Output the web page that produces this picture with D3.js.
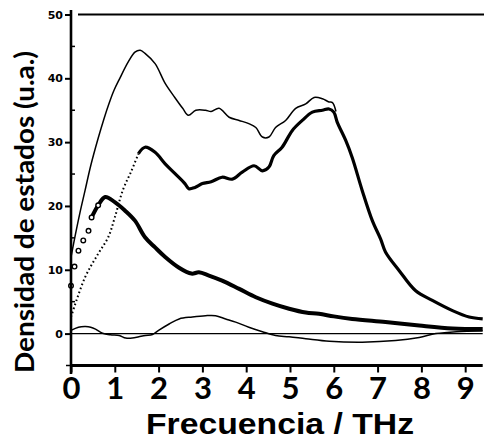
<!DOCTYPE html>
<html>
<head>
<meta charset="utf-8">
<script src="https://cdn.jsdelivr.net/npm/d3@7/dist/d3.min.js"></script>
<style>
  html, body { margin: 0; padding: 0; background: #fff; }
  svg { display: block; }
</style>
</head>
<body>
<svg id="chart" width="484" height="440"></svg>
<script>
// Densidad de estados vs frecuencia (THz)

// Curva total (línea fina superior)
const totalX = [0, 0.1, 0.2, 0.32, 0.45, 0.62, 0.75, 0.87, 0.98, 1.1, 1.31, 1.46, 1.58, 1.69, 1.92, 2.15, 2.37, 2.55, 2.68, 2.85, 3.07, 3.2, 3.38, 3.61, 3.84, 4.06, 4.22, 4.37, 4.52, 4.67, 4.9, 5.13, 5.36, 5.55, 5.74, 5.89, 5.97, 6.05];
const totalY = [12, 15.5, 18.8, 22.4, 26.3, 30.6, 33.6, 36.1, 38.1, 39.8, 42.6, 44.1, 44.4, 43.9, 42.3, 39.2, 37.0, 35.3, 34.2, 35.0, 35.0, 34.8, 35.3, 33.9, 33.4, 32.9, 32.3, 30.8, 30.8, 32.3, 33.4, 35.3, 36.0, 37.0, 36.8, 36.3, 36.2, 34.8];

// Segunda componente (punteada al inicio, gruesa después)
const compBX = [0, 0.32, 0.62, 0.85, 1.0, 1.19, 1.38, 1.54, 1.69, 1.92, 2.15, 2.37, 2.6, 2.69, 2.83, 3.0, 3.2, 3.45, 3.68, 3.91, 4.18, 4.37, 4.52, 4.63, 4.82, 5.05, 5.28, 5.51, 5.74, 5.89, 6.0, 6.08, 6.27, 6.42, 6.65, 6.88, 7.07, 7.18, 7.49, 7.87, 8.25, 8.71, 9.09, 9.4];
const compBY = [2.6, 8.8, 12.5, 15.1, 18.2, 22.6, 25.5, 28.2, 29.2, 28.4, 26.6, 25.1, 23.5, 22.7, 22.9, 23.5, 23.8, 24.5, 24.2, 25.3, 26.3, 25.5, 26.1, 27.9, 29.2, 31.8, 33.4, 34.7, 35.0, 35.2, 34.7, 33.1, 30.3, 27.6, 22.4, 17.7, 14.8, 12.8, 9.9, 6.7, 5.2, 3.6, 2.6, 2.3];
const compBDottedEnd = 1.54;

// Primera componente (círculos al inicio, gruesa después)
const compCX = [0, 0.08, 0.17, 0.28, 0.40, 0.47, 0.62, 0.78, 1.0, 1.23, 1.46, 1.69, 1.92, 2.15, 2.45, 2.75, 2.92, 3.15, 3.45, 3.84, 4.22, 4.6, 4.98, 5.36, 5.66, 6.0, 6.42, 7.18, 7.95, 8.71, 9.4];
const compCY = [7.5, 10.5, 13, 14.6, 16.1, 18.2, 20.1, 21.4, 20.6, 19.3, 17.7, 15.1, 13.5, 12.0, 10.4, 9.4, 9.6, 9.1, 8.3, 7.0, 5.7, 4.7, 3.9, 3.3, 3.1, 2.7, 2.3, 1.8, 1.25, 0.8, 0.7];
const compCCircleEnd = 0.62;

// Curva de diferencia (línea fina en torno a cero)
const diffX = [0, 0.17, 0.33, 0.45, 0.56, 0.72, 0.9, 1.1, 1.25, 1.4, 1.55, 1.7, 1.86, 2.0, 2.24, 2.47, 2.77, 3.07, 3.3, 3.53, 3.76, 4.06, 4.37, 4.67, 4.98, 5.36, 5.9, 6.65, 7.41, 7.95, 8.33, 8.8, 9.4];
const diffY = [0.5, 1.0, 1.1, 1.0, 0.7, 0.05, -0.2, -0.3, -0.7, -0.7, -0.5, -0.3, -0.15, 0.5, 1.5, 2.3, 2.6, 2.8, 2.8, 2.3, 1.8, 1.0, 0.3, -0.3, -0.5, -0.8, -1.2, -1.35, -1.1, -0.6, 0.0, 0.3, 0.4];

// Ejes
const xTicks = [0, 1, 2, 3, 4, 5, 6, 7, 8, 9];
const yMajorTicks = [0, 10, 20, 30, 40, 50];
const yMinorTicks = [5, 15, 25, 35, 45];
const xDomain = [0, 9.4];
const yDomain = [-5, 50];
const xTitle = "Frecuencia / THz";
const yTitle = "Densidad de estados (u.a.)";

const svg = d3.select("#chart");
const x = d3.scaleLinear().domain(xDomain).range([71, 482.7]);
const y = d3.scaleLinear().domain(yDomain).range([365.5, 14.5]);

const pts = (xs, ys) => xs.map((v, i) => [v, ys[i]]);
const line = d3.line()
  .x(d => x(d[0])).y(d => y(d[1]))
  .curve(d3.curveCatmullRom.alpha(0.5));

// Línea de cero
svg.append("line")
  .attr("x1", x(0)).attr("x2", x(9.4))
  .attr("y1", y(0)).attr("y2", y(0))
  .attr("stroke", "#000").attr("stroke-width", 1.2);

// Curva de diferencia
svg.append("path")
  .attr("d", line(pts(diffX, diffY)))
  .attr("fill", "none").attr("stroke", "#000").attr("stroke-width", 1.5);

// Componente C: gruesa a partir del último círculo
const cPts = pts(compCX, compCY);
svg.append("path")
  .attr("d", line(cPts.filter(d => d[0] >= 0.47)))
  .attr("fill", "none").attr("stroke", "#000").attr("stroke-width", 4)
  .attr("stroke-linejoin", "round");
svg.append("g").selectAll("circle")
  .data(cPts.filter(d => d[0] <= compCCircleEnd))
  .join("circle")
  .attr("cx", d => x(d[0])).attr("cy", d => y(d[1]))
  .attr("r", 2.3)
  .attr("fill", "#fff").attr("stroke", "#000").attr("stroke-width", 1.4);

// Componente B: punteada y luego gruesa
const bPts = pts(compBX, compBY);
svg.append("path")
  .attr("d", line(bPts.filter(d => d[0] <= compBDottedEnd)))
  .attr("fill", "none").attr("stroke", "#000").attr("stroke-width", 2)
  .attr("stroke-dasharray", "1.6,2.6");
svg.append("path")
  .attr("d", line(bPts.filter(d => d[0] >= compBDottedEnd)))
  .attr("fill", "none").attr("stroke", "#000").attr("stroke-width", 3.2)
  .attr("stroke-linejoin", "round");

// Curva total
svg.append("path")
  .attr("d", line(pts(totalX, totalY)))
  .attr("fill", "none").attr("stroke", "#000").attr("stroke-width", 1.5);

// Eje Y
svg.append("line")
  .attr("x1", x(0)).attr("x2", x(0))
  .attr("y1", 10).attr("y2", 374)
  .attr("stroke", "#000").attr("stroke-width", 2.6);
const yAxis = d3.axisLeft(y).tickValues(yMajorTicks).tickSize(6).tickPadding(2)
  .tickFormat(d3.format("d"));
const gy = svg.append("g").attr("transform", `translate(${x(0)},0)`).call(yAxis);
gy.select(".domain").remove();
gy.selectAll(".tick line").attr("stroke-width", 2);
gy.selectAll(".tick text")
  .attr("font-family", "DejaVu Sans").attr("font-weight", "bold")
  .attr("font-size", 11).attr("fill", "#000");
svg.append("g").selectAll("line")
  .data(yMinorTicks).join("line")
  .attr("x1", x(0)).attr("x2", x(0) + 4)
  .attr("y1", d => y(d)).attr("y2", d => y(d))
  .attr("stroke", "#000").attr("stroke-width", 1.5);
// marca en -5
svg.append("line")
  .attr("x1", x(0) - 5).attr("x2", x(0))
  .attr("y1", y(-5)).attr("y2", y(-5))
  .attr("stroke", "#000").attr("stroke-width", 1.5);

// Eje X inferior
const xAxis = d3.axisBottom(x).tickValues(xTicks).tickSize(7)
  .tickFormat(d3.format("d"));
const gx = svg.append("g").attr("transform", `translate(0,${y(-5)})`).call(xAxis);
gx.select(".domain").attr("stroke-width", 3).attr("d", `M${x(0)},0H${x(9.4)}`);
gx.selectAll(".tick line").attr("stroke-width", 2);
gx.selectAll(".tick text")
  .attr("y", 33.5).attr("dy", 0)
  .attr("font-family", "Lato").attr("font-weight", "bold")
  .attr("font-size", 31).attr("fill", "#000");

// Borde superior
svg.append("line")
  .attr("x1", x(0) + 7).attr("x2", 484)
  .attr("y1", y(50)).attr("y2", y(50))
  .attr("stroke", "#000").attr("stroke-width", 2.2);

// Títulos
svg.append("text")
  .attr("x", 280).attr("y", 433.5)
  .attr("text-anchor", "middle")
  .attr("font-family", "Liberation Sans").attr("font-weight", "bold")
  .attr("font-size", 30).attr("fill", "#000")
  .attr("textLength", 268).attr("lengthAdjust", "spacingAndGlyphs")
  .text(xTitle);
svg.append("text")
  .attr("transform", "translate(34,212) rotate(-90)")
  .attr("text-anchor", "middle")
  .attr("font-family", "Lato").attr("font-weight", "bold")
  .attr("font-size", 26).attr("fill", "#000")
  .attr("textLength", 322).attr("lengthAdjust", "spacingAndGlyphs")
  .text(yTitle);
</script>
</body>
</html>
